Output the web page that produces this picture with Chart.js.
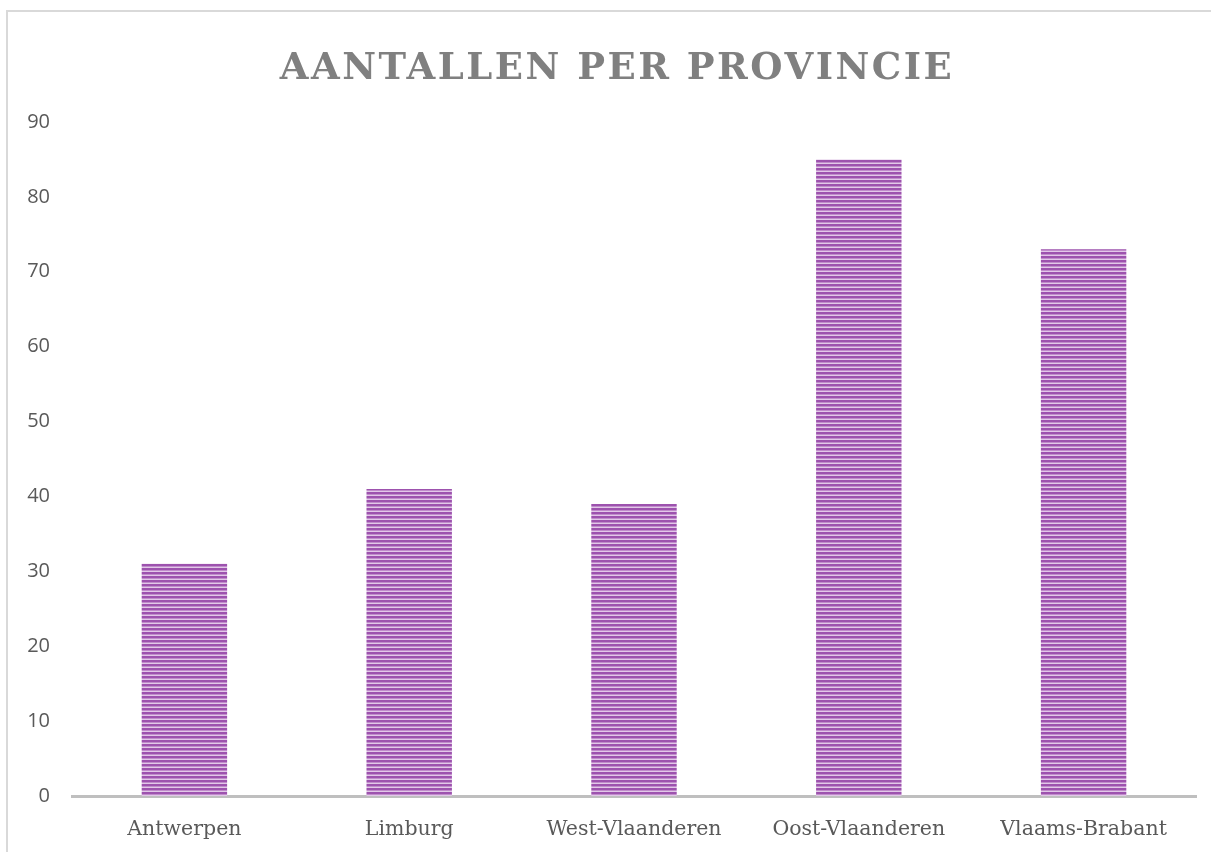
<!DOCTYPE html>
<html>
<head>
<meta charset="utf-8">
<script src="https://cdn.jsdelivr.net/npm/chart.js@4.4.1/dist/chart.umd.min.js"></script>
<style>
  html, body { margin: 0; padding: 0; background: #fff; overflow: hidden; }
  #wrap { position: relative; width: 1211px; height: 852px; }
  #frame { position: absolute; left: 6px; top: 10px; width: 1230px; height: 870px;
           border: 2px solid #d9d9d9; pointer-events: none; }
</style>
</head>
<body>
<div id="wrap">
  <canvas id="chart" width="1211" height="852"></canvas>
  <div id="frame"></div>
</div>
<script>
const chartTitle = 'AANTALLEN PER PROVINCIE';
const provinces = ['Antwerpen', 'Limburg', 'West-Vlaanderen', 'Oost-Vlaanderen', 'Vlaams-Brabant'];
const counts = [31, 41, 39, 85, 73];
const yTicks = { min: 0, max: 90, step: 10 };

// horizontal stripes, like the Office "light horizontal" fill
function stripes() {
  const c = document.createElement('canvas');
  c.width = 8; c.height = 4;
  const g = c.getContext('2d');
  g.fillStyle = '#e2c8e8'; g.fillRect(0, 0, 8, 4);
  g.fillStyle = '#9d52ae'; g.fillRect(0, 0, 8, 2);
  g.fillStyle = '#c08ccb'; g.fillRect(0, 2, 8, 1);
  return g.createPattern(c, 'repeat');
}

// title with letter spacing (chart.js title can't do that)
const spacedTitle = {
  id: 'spacedTitle',
  afterDraw(chart) {
    const ctx = chart.ctx;
    ctx.save();
    ctx.font = 'bold 37px "DejaVu Serif"';
    ctx.letterSpacing = '2.5px';
    ctx.fillStyle = '#808080';
    ctx.textAlign = 'center';
    ctx.textBaseline = 'alphabetic';
    ctx.fillText(chartTitle, 617, 79);
    ctx.restore();
  }
};

const ctx = document.getElementById('chart').getContext('2d');
new Chart(ctx, {
  type: 'bar',
  data: {
    labels: provinces,
    datasets: [{
      data: counts,
      backgroundColor: stripes(),
      borderWidth: 0,
      categoryPercentage: 1,
      barPercentage: 0.38
    }]
  },
  plugins: [spacedTitle],
  options: {
    responsive: false,
    animation: false,
    layout: { padding: { top: 122, right: 15, bottom: 0, left: 0 } },
    plugins: { legend: { display: false }, tooltip: { enabled: false } },
    scales: {
      x: {
        grid: { display: false },
        border: { color: '#bfbfbf', width: 3 },
        ticks: { color: '#595959', font: { family: 'DejaVu Serif', size: 20.5 }, padding: 13 },
        afterFit: s => { s.height = 56; }
      },
      y: {
        min: yTicks.min, max: yTicks.max,
        grid: { display: false, drawTicks: false },
        border: { display: false },
        ticks: { stepSize: yTicks.step, color: '#595959', padding: 22,
                 font: { family: 'Open Sans', size: 20 } },
        afterFit: s => { s.width = 72; }
      }
    }
  }
});
</script>
</body>
</html>
